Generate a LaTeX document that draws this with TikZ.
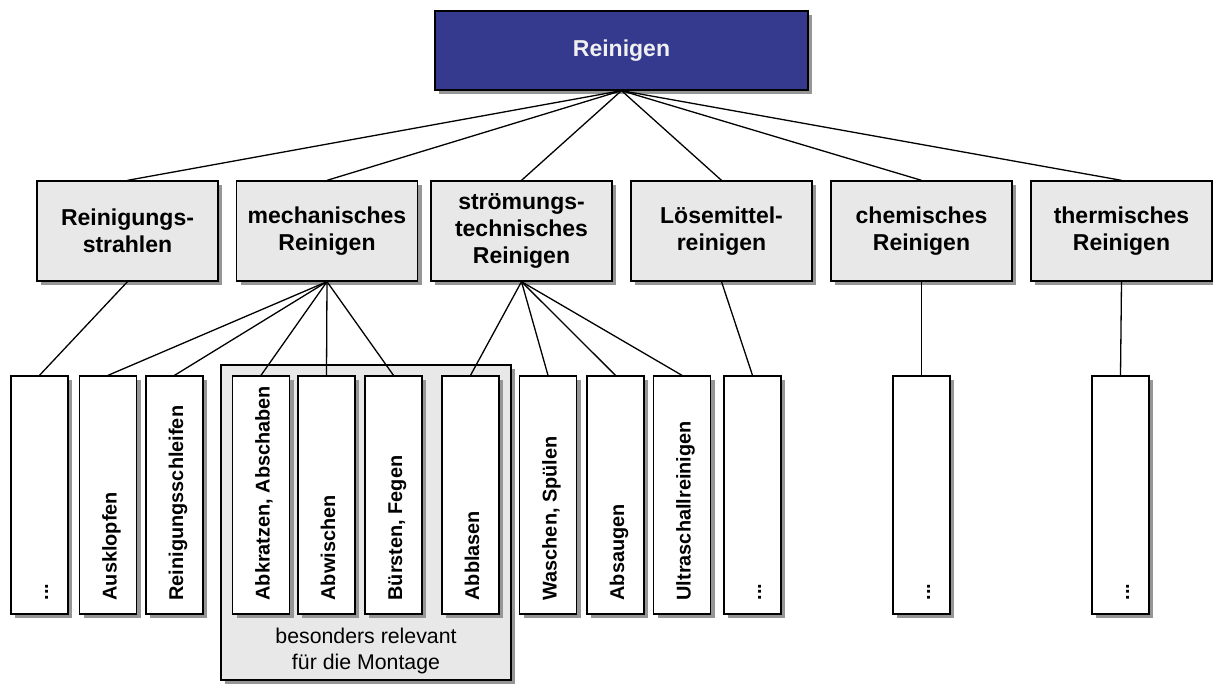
\documentclass[tikz,border=0pt]{standalone}
\usepackage{fontspec}
\setmainfont{Liberation Sans}
\usetikzlibrary{shadows}
\definecolor{topblue}{RGB}{54,58,143}
\definecolor{boxgrey}{RGB}{232,232,232}
\definecolor{shadowgrey}{RGB}{150,150,150}
\begin{document}
\begin{tikzpicture}[x=1pt,y=-1pt,
  shadowed/.style={drop shadow={shadow xshift=4pt,shadow yshift=-4pt,fill=shadowgrey,opacity=1}},
  rootbox/.style={draw=black,line width=1.3pt,fill=topblue,shadowed,minimum width=373pt,minimum height=79pt,
    inner sep=0pt,text=white!94!black,font=\fontsize{23}{27}\selectfont\bfseries},
  catbox/.style={draw=black,line width=1.3pt,fill=boxgrey,shadowed,minimum width=181pt,minimum height=100pt,
    inner sep=0pt,align=center,font=\fontsize{23}{27}\selectfont\bfseries},
  leafbox/.style={draw=black,line width=1.3pt,fill=white,shadowed,minimum width=57pt,minimum height=238pt,inner sep=0pt},
  leaftext/.style={rotate=90,anchor=base west,inner sep=0pt,font=\fontsize{19.9}{22}\selectfont\bfseries},
  groupbox/.style={draw=black,line width=1.3pt,fill=boxgrey,shadowed,minimum width=290pt,minimum height=315pt,inner sep=0pt},
  grouptext/.style={align=center,inner sep=0pt,font=\fontsize{21.3}{26}\selectfont},
  link/.style={line width=1.3pt}
]
\useasboundingbox (0,0) rectangle (1213,688);

% group frame behind the leaves most relevant for assembly
\node[groupbox] (grp) at (366,522.5) {};
\node[grouptext] (grptext) at (366,651) {besonders relevant\\für die Montage};

% root
\node[rootbox] (root) at (621.5,50.5) {Reinigen};

% categories
\node[catbox] (rs) at (127.5,231) {Reinigungs-\\strahlen};
\node[catbox] (mr) at (327,231) {mechanisches\\Reinigen};
\node[catbox] (st) at (521.5,231) {strömungs-\\technisches\\Reinigen};
\node[catbox] (lr) at (721.5,231) {Lösemittel-\\reinigen};
\node[catbox] (cr) at (921.5,231) {chemisches\\Reinigen};
\node[catbox] (tr) at (1121.5,231) {thermisches\\Reinigen};

% leaves with vertical labels, baseline a little right of the box centre
\foreach \cx/\nm/\txt in {
  39.5/l1/{...},
  108/l2/{Ausklopfen},
  174.5/l3/{Reinigungsschleifen},
  261/l4/{Abkratzen, Abschaben},
  326.5/l5/{Abwischen},
  393.5/l6/{Bürsten, Fegen},
  470.5/l7/{Abblasen},
  548/l8/{Waschen, Spülen},
  615.5/l9/{Absaugen},
  682/l10/{Ultraschallreinigen},
  752.5/l11/{...},
  921.5/l12/{...},
  1120.5/l13/{...}}{
  \node[leafbox] (\nm) at (\cx,495) {};
  \node[leaftext] (\nm t) at ([xshift=8.5pt,yshift=14pt]\nm.south) {\txt};
}

% connectors root -> categories
\foreach \c in {rs,mr,st,lr,cr,tr}
  \draw[link] (root.south) -- (\c.north);

% connectors categories -> leaves
\draw[link] (rs.south) -- (l1.north);
\foreach \l in {l2,l3,l4,l5,l6}
  \draw[link] (mr.south) -- (\l.north);
\foreach \l in {l7,l8,l9,l10}
  \draw[link] (st.south) -- (\l.north);
\draw[link] (lr.south) -- (l11.north);
\draw[link] (cr.south) -- (l12.north);
\draw[link] (tr.south) -- (l13.north);
\end{tikzpicture}
\end{document}
